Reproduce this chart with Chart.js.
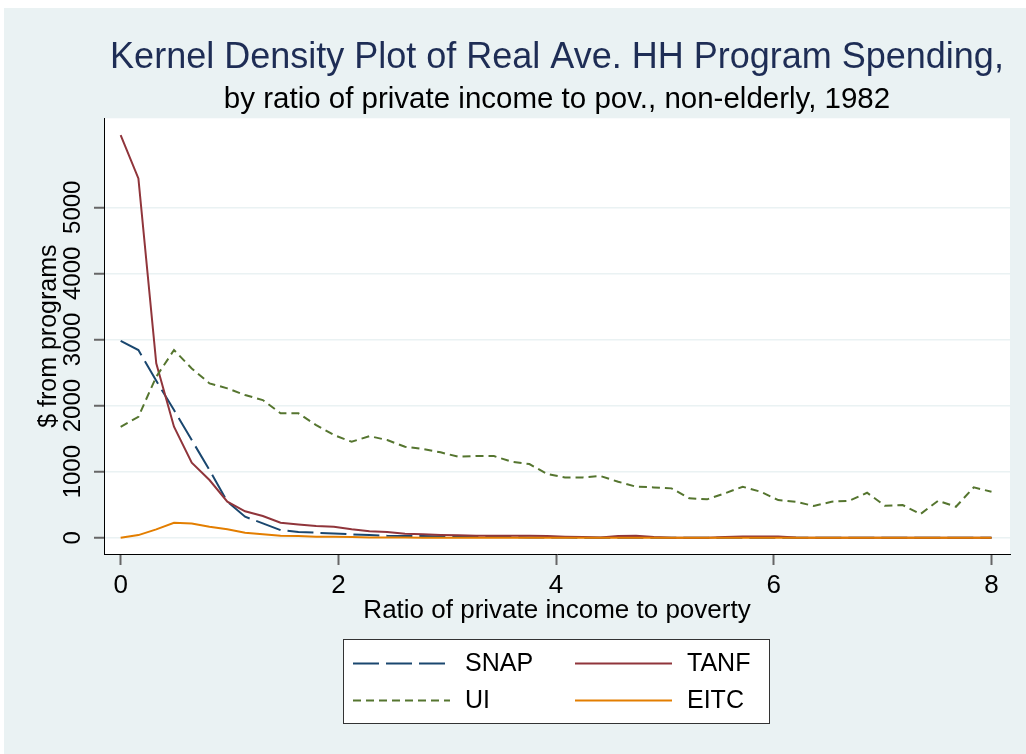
<!DOCTYPE html>
<html>
<head>
<meta charset="utf-8">
<script src="https://cdn.jsdelivr.net/npm/chart.js@4/dist/chart.umd.min.js"></script>
<style>
html,body{margin:0;padding:0;background:#fff;}
#wrap{width:1026px;height:754px;}
</style>
</head>
<body>
<div id="wrap"><canvas id="c" width="1026" height="754"></canvas></div>
<script>
// ---- data ----
const xValues = [0, 0.163, 0.327, 0.49, 0.653, 0.816, 0.98, 1.143, 1.306, 1.469,
  1.633, 1.796, 1.959, 2.122, 2.286, 2.449, 2.612, 2.776, 2.939, 3.102,
  3.265, 3.429, 3.592, 3.755, 3.918, 4.082, 4.245, 4.408, 4.571, 4.735,
  4.898, 5.061, 5.224, 5.388, 5.551, 5.714, 5.878, 6.041, 6.204, 6.367,
  6.531, 6.694, 6.857, 7.02, 7.184, 7.347, 7.51, 7.673, 7.837, 8.0];

const snapValues = [2980, 2840, 2375, 1932, 1478, 1024, 545, 318, 217, 116,
  86, 76, 66, 51, 41, 30, 25, 25, 20, 20,
  20, 10, 10, 5, 5, 5, 0, 0, 0, 0,
  0, 0, 0, 0, 0, 0, 0, 0, 0, 0,
  0, 0, 0, 0, 0, 0, 0, 0, 0, 0];

const tanfValues = [6090, 5437, 2638, 1680, 1135, 873, 545, 400, 328, 227,
  202, 177, 166, 127, 97, 86, 61, 51, 41, 36,
  30, 30, 30, 30, 25, 15, 10, 5, 25, 30,
  10, 0, 0, 0, 10, 20, 20, 20, 5, 0,
  0, 0, 0, 0, 0, 0, 0, 0, 0, 0];

const uiValues = [1679, 1830, 2436, 2840, 2562, 2335, 2260, 2159, 2083, 1882,
  1882, 1705, 1554, 1452, 1538, 1478, 1377, 1342, 1292, 1225,
  1236, 1236, 1150, 1115, 964, 913, 913, 933, 847, 772,
  762, 747, 596, 581, 672, 772, 696, 570, 545, 480,
  545, 560, 681, 484, 495, 358, 560, 469, 762, 696];

const eitcValues = [0, 40, 127, 227, 217, 167, 127, 76, 51, 30,
  25, 15, 15, 10, 5, 5, 5, 0, 0, 0,
  0, 0, 0, 0, 0, 0, 0, 0, 0, 0,
  0, 0, 0, 0, 0, 0, 0, 0, 0, 0,
  0, 0, 0, 0, 0, 0, 0, 0, 0, 0];

const seriesLabels = ['SNAP', 'TANF', 'UI', 'EITC'];
const xTickValues = [0, 2, 4, 6, 8];
const yTickValues = [0, 1000, 2000, 3000, 4000, 5000];

const titleText = 'Kernel Density Plot of Real Ave. HH Program Spending,';
const subtitleText = 'by ratio of private income to pov., non-elderly, 1982';
const xTitle = 'Ratio of private income to poverty';
const yTitle = '$ from programs';

// ---- styling ----
const FONT = "'Liberation Sans', Arial, Helvetica, sans-serif";
const BG = 'rgb(234,242,243)';
const colors = {
  SNAP: 'rgb(26,71,111)',
  TANF: 'rgb(144,53,59)',
  UI: 'rgb(85,117,47)',
  EITC: 'rgb(227,126,0)'
};
const dashes = { SNAP: [26, 7], TANF: [], UI: [8, 5], EITC: [] };

function pts(vals) { return xValues.map((x, i) => ({ x: x, y: vals[i] })); }
const seriesValues = [snapValues, tanfValues, uiValues, eitcValues];

const datasets = seriesLabels.map((lab, k) => ({
  label: lab,
  data: pts(seriesValues[k]),
  borderColor: colors[lab],
  backgroundColor: colors[lab],
  borderWidth: 2,
  borderDash: dashes[lab],
  borderCapStyle: 'butt',
  pointRadius: 0,
  tension: 0,
  fill: false,
  order: 4 - k
}));

const bgPlugin = {
  id: 'stataBg',
  beforeDraw(chart) {
    const ctx = chart.ctx, w = chart.width, h = chart.height, a = chart.chartArea;
    ctx.save();
    ctx.fillStyle = '#ffffff';
    ctx.fillRect(0, 0, w, h);
    ctx.fillStyle = BG;
    ctx.fillRect(4, 8, w - 4, h - 8);
    ctx.fillStyle = '#ffffff';
    ctx.fillRect(a.left, a.top, a.right - a.left, a.bottom - a.top);
    ctx.restore();
  }
};

const boxLegend = {
  id: 'boxLegend',
  afterDraw(chart) {
    const ctx = chart.ctx;
    const ds = chart.data.datasets;
    ctx.save();
    ctx.fillStyle = '#ffffff';
    ctx.fillRect(343.5, 639.5, 426, 84);
    ctx.strokeStyle = '#333333';
    ctx.lineWidth = 1;
    ctx.strokeRect(343.5, 639.5, 426, 84);
    const colX = [353, 575];
    const rowY = [663.5, 700.5];
    const lineLen = 97;
    const textGap = 15;
    ctx.font = '25px ' + FONT;
    ctx.textBaseline = 'middle';
    ctx.textAlign = 'left';
    ds.forEach((d, i) => {
      const r = Math.floor(i / 2), c = i % 2;
      const x0 = colX[c], y0 = rowY[r];
      ctx.beginPath();
      ctx.setLineDash(d.borderDash || []);
      ctx.strokeStyle = d.borderColor;
      ctx.lineWidth = 2;
      ctx.lineCap = 'butt';
      ctx.moveTo(x0, y0);
      ctx.lineTo(x0 + lineLen, y0);
      ctx.stroke();
      ctx.setLineDash([]);
      ctx.fillStyle = '#000000';
      ctx.fillText(d.label, x0 + lineLen + textGap, y0 + 1);
    });
    ctx.restore();
  }
};

Chart.defaults.font.family = FONT;

new Chart(document.getElementById('c'), {
  type: 'line',
  data: { datasets: datasets },
  options: {
    responsive: false,
    devicePixelRatio: 1,
    animation: false,
    layout: { padding: { left: 0, top: 8, right: 16, bottom: 124 } },
    plugins: {
      legend: { display: false },
      tooltip: { enabled: false },
      title: {
        display: true,
        text: titleText,
        fullSize: false,
        color: 'rgb(30,45,85)',
        font: { family: FONT, size: 36, weight: 'normal' },
        padding: { top: 28.4, bottom: 0 }
      },
      subtitle: {
        display: true,
        text: subtitleText,
        fullSize: false,
        color: '#000000',
        font: { family: FONT, size: 29.5, weight: 'normal' },
        padding: { top: 2.5, bottom: 0.8 }
      }
    },
    scales: {
      x: {
        type: 'linear',
        min: -0.153,
        max: 8.17,
        afterBuildTicks: (s) => { s.ticks = xTickValues.map(v => ({ value: v })); },
        afterFit: (s) => { s.height = 76; },
        ticks: {
          color: '#000000',
          font: { family: FONT, size: 26 },
          padding: 5,
          minRotation: 0,
          maxRotation: 0,
          autoSkip: false,
          callback: (v) => String(v)
        },
        grid: {
          drawOnChartArea: false,
          drawTicks: true,
          tickLength: 11,
          tickColor: '#666666',
          tickWidth: 2
        },
        border: { display: true, color: '#000000', width: 1 },
        title: {
          display: true,
          text: xTitle,
          color: '#000000',
          font: { family: FONT, size: 26 },
          padding: { top: 0, bottom: 3.4 }
        }
      },
      y: {
        type: 'linear',
        min: -246,
        max: 6346,
        afterBuildTicks: (s) => { s.ticks = yTickValues.map(v => ({ value: v })); },
        afterFit: (s) => { s.width = 104; },
        ticks: {
          color: '#000000',
          font: { family: FONT, size: 24 },
          minRotation: 90,
          maxRotation: 90,
          crossAlign: 'center',
          padding: -6,
          autoSkip: false,
          callback: (v) => String(v)
        },
        grid: {
          color: BG,
          lineWidth: 1.5,
          drawTicks: true,
          tickLength: 10,
          tickColor: '#666666',
          tickWidth: 2
        },
        border: { display: true, color: '#000000', width: 1 },
        title: {
          display: true,
          text: yTitle,
          color: '#000000',
          font: { family: FONT, size: 25 },
          padding: { top: 34, bottom: 0 }
        }
      }
    }
  },
  plugins: [bgPlugin, boxLegend]
});
</script>
</body>
</html>
